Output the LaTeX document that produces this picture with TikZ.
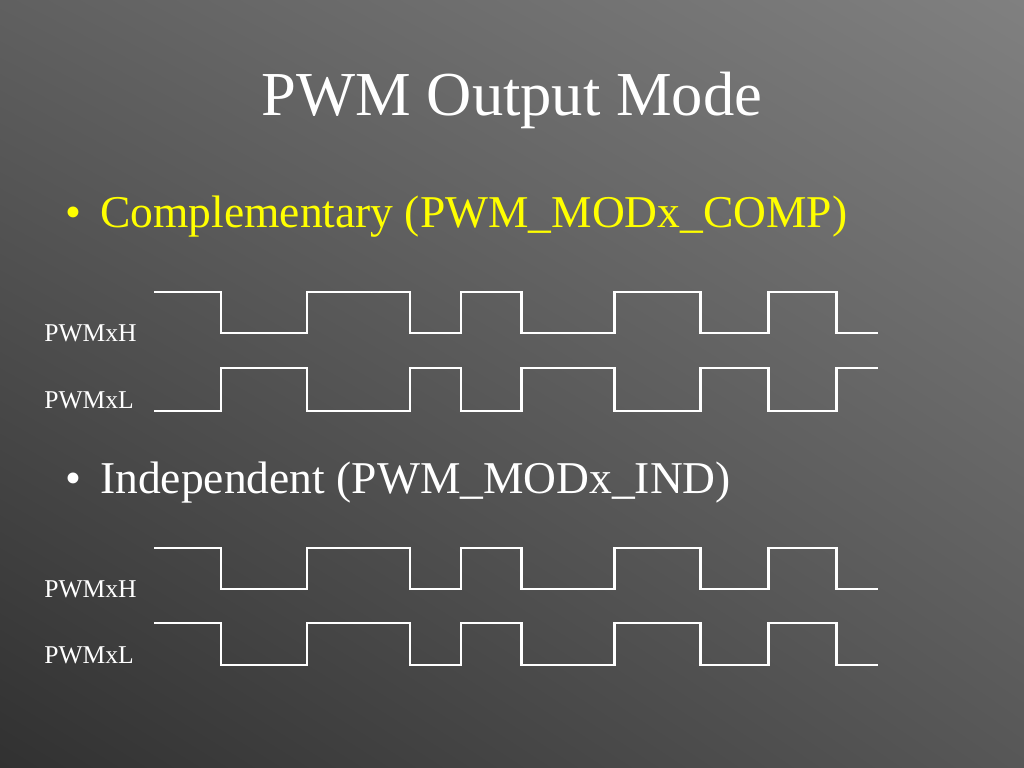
\documentclass[tikz,border=0pt]{standalone}
\usepackage{fontspec}
\setmainfont{Liberation Serif}
\definecolor{SlideTL}{HTML}{606060}
\definecolor{SlideTR}{HTML}{808080}
\definecolor{SlideBL}{HTML}{313131}
\definecolor{SlideBR}{HTML}{575757}
\definecolor{BulletYellow}{HTML}{FFFF00}
\usetikzlibrary{positioning,shadings}

\tikzset{
  wave/.style={white,line width=2.1pt,line join=miter},
  sig/.style={white,anchor=base west,inner sep=0pt,font=\fontsize{18}{20}\selectfont},
  bullet/.style={anchor=base west,inner sep=0pt,font=\fontsize{32}{36}\selectfont}
}

\begin{document}
\begin{tikzpicture}[x=0.703125pt,y=-0.703125pt]
      % slide background
      \shade[upper left=SlideTL,upper right=SlideTR,lower left=SlideBL,lower right=SlideBR]
        (0,0) rectangle (1024,768);
      \useasboundingbox (0,0) rectangle (1024,768);

      \node[white,anchor=base,inner sep=0pt,font=\fontsize{44}{50}\selectfont] (title) at (512,116) {PWM Output Mode};

      % complementary mode
      \node[bullet,BulletYellow] (dotA) at (65,228) {\textbullet};
      \node[bullet,BulletYellow] (comp) at (100,228) {Complementary (PWM\_MODx\_COMP)};
      \node[sig] (compH) at (44,341) {PWMxH};
      \node[sig] (compL) at (44,408) {PWMxL};
      \draw[wave] (154,292) -| (221,333) -| (307,292) -| (410,333) -| (461,292) -| (521,333)
        -| (614,292) -| (700,333) -| (768,292) -| (836,333) -- (878,333);
      \draw[wave] (154,411) -| (221,368) -| (307,411) -| (410,368) -| (461,411) -| (521,368)
        -| (614,411) -| (700,368) -| (768,411) -| (836,368) -- (878,368);

      % independent mode
      \node[bullet,white] (dotB) at (65,493) {\textbullet};
      \node[bullet,white] (ind) at (100,493) {Independent (PWM\_MODx\_IND)};
      \node[sig] (indH) at (44,597) {PWMxH};
      \node[sig] (indL) at (44,663) {PWMxL};
      \draw[wave] (154,548) -| (221,589) -| (307,548) -| (410,589) -| (461,548) -| (521,589)
        -| (614,548) -| (700,589) -| (768,548) -| (836,589) -- (878,589);
      \draw[wave] (154,623) -| (221,665) -| (307,623) -| (410,665) -| (461,623) -| (521,665)
        -| (614,623) -| (700,665) -| (768,623) -| (836,665) -- (878,665);
    \end{tikzpicture}
\end{document}
